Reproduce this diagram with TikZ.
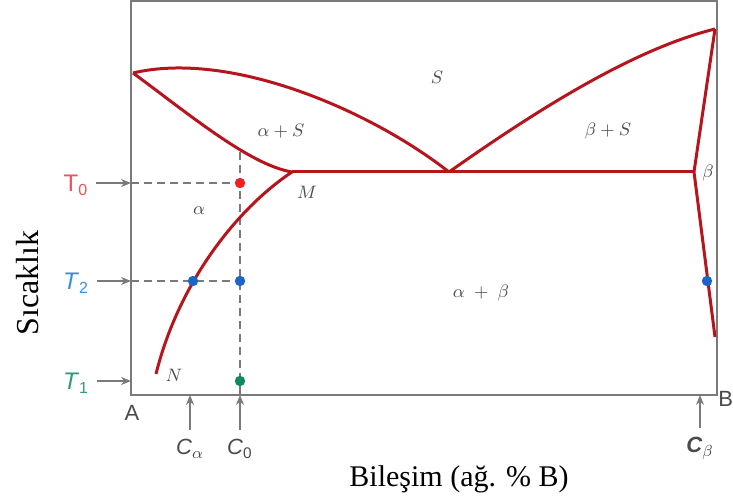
\documentclass[tikz,border=0pt]{standalone}
\usepackage{fontspec}
\setmainfont{Liberation Serif}
\setsansfont{Liberation Sans}
\usetikzlibrary{arrows.meta,backgrounds}
\definecolor{PRed}{HTML}{B5161E}
\definecolor{PGray}{HTML}{7A7A7A}
\definecolor{PText}{HTML}{4A4A4A}
\definecolor{TRed}{HTML}{F0505A}
\definecolor{TBlue}{HTML}{3C8FD6}
\definecolor{TGreen}{HTML}{2E9C78}
\definecolor{DRed}{HTML}{EE2222}
\definecolor{DBlue}{HTML}{1A66C8}
\definecolor{DGreen}{HTML}{14875C}

\begin{document}
\begin{tikzpicture}[x=0.5pt,y=-0.5pt,
  ph/.style={draw=PRed,line width=1.5pt},
  fr/.style={draw=PGray,line width=1pt},
  dsh/.style={draw=PGray,line width=1pt,dash pattern=on 4pt off 2.5pt},
  ar/.style={-{Stealth[length=5pt,width=4pt]},draw=PGray,line width=0.8pt},
  reg/.style={text=PText,font=\fontsize{9.5}{11}\selectfont,inner sep=1pt},
  tlab/.style={font=\sffamily\fontsize{12}{14}\selectfont,inner sep=1pt,outer sep=3pt,anchor=base},
  clab/.style={text=PText,font=\sffamily\fontsize{11}{13}\selectfont,inner sep=1pt,outer sep=4pt,anchor=base},
  dot/.style={circle,inner sep=0pt,minimum size=5.2pt}
]
\useasboundingbox (0,0) rectangle (733,501);

% frame
\coordinate (fa) at (131,1);
\coordinate (fb) at (717,395);
\draw[fr] (fa) rectangle (fb);

% key points of the diagram
\coordinate (am) at (133,73);
\coordinate (bm) at (715,29);
\coordinate (eu) at (449,172);
\coordinate (m) at (292,172);
\coordinate (bs) at (694,172);
\coordinate (n) at (156,374);
\coordinate (bn) at (715,337);
\coordinate (y0) at (131,183);
\coordinate (y2) at (131,281);
\coordinate (y1) at (131,381);
\coordinate (ctop) at (240,152);
\coordinate (cbot) at (240,395);

% phase boundaries
\draw[ph] (am) .. controls (230,50) and (370,110) .. (eu);
\draw[ph] (am) .. controls (190,115) and (250,165) .. (m);
\draw[ph] (m) .. controls (235,210) and (178,285) .. (n);
\draw[ph] (eu) .. controls (530,115) and (630,50) .. (bm);
\draw[ph,line join=round] (bm) -- (bs) -- (bn);
\draw[ph] (m) -- (bs);

% dots
\node[dot,fill=DRed] (d0) at (240,183) {};
\node[dot,fill=DBlue] (d2a) at (193,281) {};
\node[dot,fill=DBlue] (d2b) at (240,281) {};
\node[dot,fill=DGreen] (d1) at (240,381) {};
\node[dot,fill=DBlue] (d2c) at (707,281) {};

% dashed guides, under the red lines
\begin{scope}[on background layer]
  \draw[dsh] (y0) -- (d0.center);
  \draw[dsh] (y2) -- (d2b.center);
  \draw[dsh] (ctop) -- (cbot);
\end{scope}

% regions
\node[reg] (ls) at (437,77) {$S$};
\node[reg] (las) at (281,131) {$\alpha + S$};
\node[reg] (lbs) at (608,131) {$\beta + S$};
\node[reg] (la) at (199,211) {$\alpha$};
\node[reg] (lm) at (307,192) {$M$};
\node[reg] (lb) at (708,173) {$\beta$};
\node[reg] (lab) at (481,293) {$\alpha\;+\;\beta$};
\node[reg] (ln) at (174,375) {$N$};

% temperatures
\node[tlab,text=TRed] (t0) at (76,192) {T\textsubscript{0}};
\node[tlab,text=TBlue] (t2) at (76,290) {\textit{T}\textsubscript{2}};
\node[tlab,text=TGreen] (t1) at (76,390) {\textit{T}\textsubscript{1}};
\foreach \t/\y in {t0/y0,t2/y2,t1/y1}
  {\draw[ar] (\t.east |- \y) -- (\y);}

% compositions
\node[clab] (ca) at (190,455) {\textit{C}$_\alpha$};
\node[clab] (cz) at (240,455) {\textit{C}\textsubscript{0}};
\node[clab] (cb) at (700,453) {\textbf{\textit{C}}$_\beta$};
\foreach \c in {ca,cz,cb}
  {\draw[ar] (\c) -- (\c |- fb);}

\node[text=PText,font=\sffamily\fontsize{11}{13}\selectfont] (pa) at (132,413) {A};
\node[text=PText,font=\sffamily\fontsize{11}{13}\selectfont,anchor=west,inner sep=0pt] (pb) at (718,399) {B};

% axes
\node[font=\fontsize{16}{18}\selectfont,rotate=90,anchor=base] (ylab) at (39,283) {Sıcaklık};
\node[font=\fontsize{15}{18}\selectfont,anchor=base] (xlab) at (459,487) {Bileşim (ağ. \% B)};
\end{tikzpicture}
\end{document}
